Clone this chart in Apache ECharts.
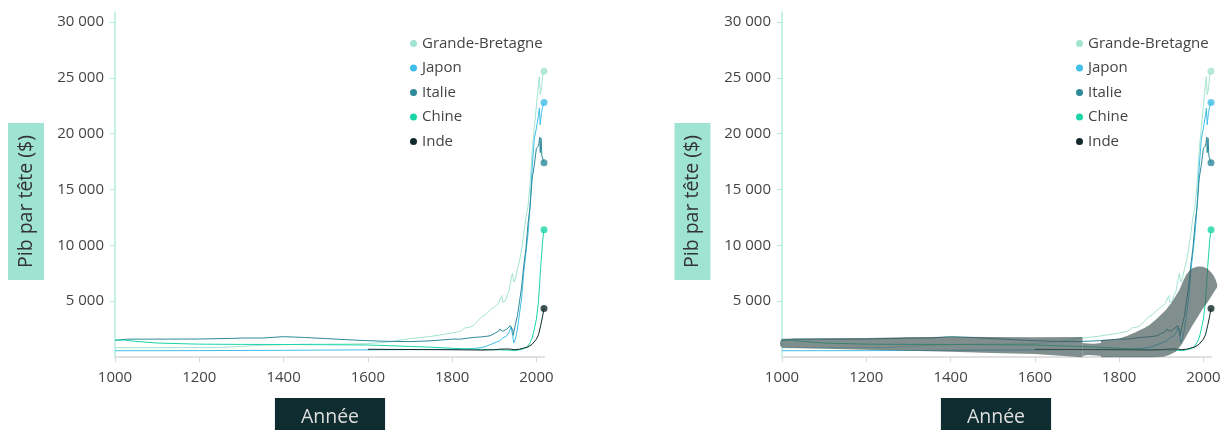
<!DOCTYPE html>
<html><head><meta charset="utf-8">
<script src="https://cdn.jsdelivr.net/npm/echarts@6/dist/echarts.min.js"></script>
<style>html,body{margin:0;padding:0;background:#fff}#c{width:1225px;height:430px}</style>
</head><body><div id="c"></div><script>
const countries = ['Grande-Bretagne','Japon','Italie','Chine','Inde'];
const countryColors = ['#a3e3d2','#3fbfe8','#2e8a9a','#1ad6a6','#12292b'];

const gbYears = [1000,1100,1200,1250,1300,1348,1400,1450,1500,1550,1600,1650,1700,1750,1800,1820,1830,1840,1850,1860,1870,1880,1890,1900,1905,1910,1913,1918,1920,1926,1930,1935,1940,1943,1945,1947,1950,1955,1960,1965,1970,1975,1980,1985,1990,1995,2000,2005,2007,2009,2012,2015,2018];
const gbPib = [830,830,840,850,950,1050,1100,1150,1150,1160,1200,1350,1650,1850,2150,2300,2600,2650,2800,3200,3600,3800,4200,4500,4600,4800,5100,5500,4900,5000,5500,5900,7000,7500,7000,6700,7000,7900,8600,9700,11000,12500,13500,15500,18500,20500,22500,24500,25100,23500,24000,25200,25600];

const japYears = [1000,1200,1400,1600,1700,1800,1820,1850,1870,1880,1890,1900,1913,1920,1930,1935,1940,1943,1945,1946,1950,1955,1960,1965,1970,1975,1980,1985,1990,1995,2000,2005,2007,2009,2012,2015,2018];
const japPib = [560,570,600,640,660,690,700,760,850,950,1100,1250,1450,1700,1900,2200,2700,2800,1600,1250,1600,2500,3900,5300,7600,9300,11000,13500,17000,19500,20500,21700,22300,20800,21900,22400,22800];

const itaYears = [1000,1030,1100,1200,1280,1300,1350,1400,1450,1500,1550,1600,1650,1700,1750,1800,1820,1850,1870,1880,1890,1900,1910,1913,1920,1930,1938,1940,1942,1944,1945,1946,1950,1955,1960,1965,1970,1975,1980,1985,1990,1995,2000,2005,2008,2009,2011,2013,2018];
const itaPib = [1500,1600,1600,1610,1670,1700,1700,1820,1750,1650,1550,1460,1400,1380,1450,1600,1600,1750,1800,1850,1900,2100,2300,2500,2300,2500,2800,2750,2800,2400,1950,2000,2900,3700,5000,6300,8200,9700,11900,13500,16000,17200,18700,18900,19700,18300,19600,18000,17400];

const chnYears = [1000,1020,1050,1100,1200,1300,1400,1500,1600,1700,1750,1800,1850,1870,1900,1913,1929,1938,1950,1960,1970,1978,1985,1990,1995,2000,2005,2010,2015,2018];
const chnPib = [1500,1520,1400,1250,1150,1130,1120,1100,1075,950,880,780,700,680,650,640,620,600,570,650,750,900,1300,1700,2500,3400,5000,8000,10500,11400];

const indYears = [1600,1700,1800,1850,1870,1900,1913,1930,1940,1947,1950,1960,1970,1980,1990,2000,2005,2010,2015,2018];
const indPib = [690,670,650,630,620,650,700,720,700,650,620,700,800,900,1150,1600,2000,2800,3700,4350];

const xTicks = [1000,1200,1400,1600,1800,2000];
const yTicks = [5000,10000,15000,20000,25000,30000];
const yTickLabels = ['5 000','10 000','15 000','20 000','25 000','30 000'];

// grey highlight band drawn on the right chart: [year, value] outline points
const bandA = [[1000,1640],[1100,1670],[1200,1700],[1300,1760],[1400,1820],[1500,1790],[1600,1760],[1713,1800],
  [1713,-20],[1600,260],[1500,360],[1400,470],[1300,560],[1200,640],[1100,740],[1000,830],[996,1000],[995,1250],[997,1500]];
const bandLink = [[1713,1250],[1725,1200],[1740,1180],[1757,1250],[1757,80],[1740,160],[1725,180],[1713,100]];
const bandB = [[1757,1520],[1780,1560],[1800,1650],[1820,1900],[1840,2250],[1860,2600],[1872,2870],[1890,3450],[1911,4210],[1925,4900],[1935,5500],[1943,6000],[1951,6750],[1959,7350],[1967,7750],[1975,7970],[1987,8100],[1999,8090],[2010,7900],[2018,7600],[2024,7300],[2029,6950],[2033,6450],[2032,6200],[2028,6000],
  [2020,5500],[2010,4900],[1998,4300],[1985,3500],[1972,2700],[1960,1900],[1948,1100],[1935,500],[1920,200],[1905,30],[1880,-20],[1833,-30],[1757,-30]];
const bandPieces = [bandA, bandLink, bandB];

const yearsList = [gbYears, japYears, itaYears, chnYears, indYears];
const pibList = [gbPib, japPib, itaPib, chnPib, indPib];

const FONT = 'Open Sans';
const grids = [
  {left:115, width:429, top:12, height:345},
  {left:782, width:429, top:12, height:345}
];
const xAxes = [], yAxes = [], series = [], legends = [];
grids.forEach((g, gi) => {
  xAxes.push({type:'value', gridIndex:gi, min:1000, max:2018,
    axisLine:{lineStyle:{color:'#e0e0e0', width:2}},
    axisTick:{show:true, customValues:xTicks, length:5, lineStyle:{color:'#d8d8d8', width:1}},
    axisLabel:{customValues:xTicks, color:'#444', fontSize:15, fontFamily:FONT, margin:13, formatter:v=>String(v)},
    splitLine:{show:false}});
  yAxes.push({type:'value', gridIndex:gi, min:0, max:30900,
    axisLine:{show:true, lineStyle:{color:'#b6ecdf', width:1.5}},
    axisTick:{show:true, customValues:yTicks, length:5, lineStyle:{color:'#b6ecdf'}},
    axisLabel:{customValues:yTicks, color:'#444', fontSize:15, fontFamily:FONT, margin:11,
      formatter:v=>yTickLabels[yTicks.indexOf(v)]},
    splitLine:{show:false}});
  countries.forEach((name, ci) => {
    const ys = yearsList[ci], vs = pibList[ci];
    series.push({type:'line', name, xAxisIndex:gi, yAxisIndex:gi, symbol:'none', silent:true,
      lineStyle:{width:1, color:countryColors[ci]}, itemStyle:{color:countryColors[ci]},
      data: ys.map((y,i)=>[y, vs[i]]), z:2});
    series.push({type:'scatter', name, xAxisIndex:gi, yAxisIndex:gi, symbolSize:7, silent:true,
      itemStyle:{color:countryColors[ci]}, data:[[ys[ys.length-1], vs[vs.length-1]]], z:3});
  });
  legends.push({orient:'vertical', left: gi===0 ? 410 : 1076, top:36, padding:0, itemGap:9.5,
    icon:'circle', itemWidth:7, itemHeight:7, data:countries, selectedMode:false,
    textStyle:{color:'#444', fontSize:15, fontFamily:FONT}});
});
series.push({type:'custom', xAxisIndex:1, yAxisIndex:1, silent:true, z:5, clip:false,
  data: bandPieces.map((p,i)=>[p[0][0], p[0][1], i]),
  renderItem:(params, api)=>{
    const pts = bandPieces[api.value(2)].map(p=>api.coord(p));
    return {type:'polygon', shape:{points:pts}, style:{fill:'rgb(70,88,88)', opacity:0.68}};
  }});

const nameText = (x, y, text, rot, bg, color, pad) => ({type:'text', x, y, rotation:rot, z:10,
  style:{text, fontSize:19.5, fontFamily:FONT, fill:color, backgroundColor:bg, padding:pad,
    align:'center', verticalAlign:'middle'}});

const chart = echarts.init(document.getElementById('c'), null, {renderer:'canvas'});
chart.setOption({
  animation:false,
  grid:grids,
  xAxis:xAxes, yAxis:yAxes, legend:legends, series,
  graphic:[
    nameText(26, 201.5, 'Pib par tête ($)', Math.PI/2, '#9fe3d3', '#333', [8,12,8,12]),
    nameText(692.5, 201.5, 'Pib par tête ($)', Math.PI/2, '#9fe3d3', '#333', [8,12,8,12]),
    nameText(330, 417, 'Année', 0, '#0f2d30', '#dedede', [6,26,12,26]),
    nameText(996, 417, 'Année', 0, '#0f2d30', '#dedede', [6,26,12,26])
  ]
});
</script></body></html>
